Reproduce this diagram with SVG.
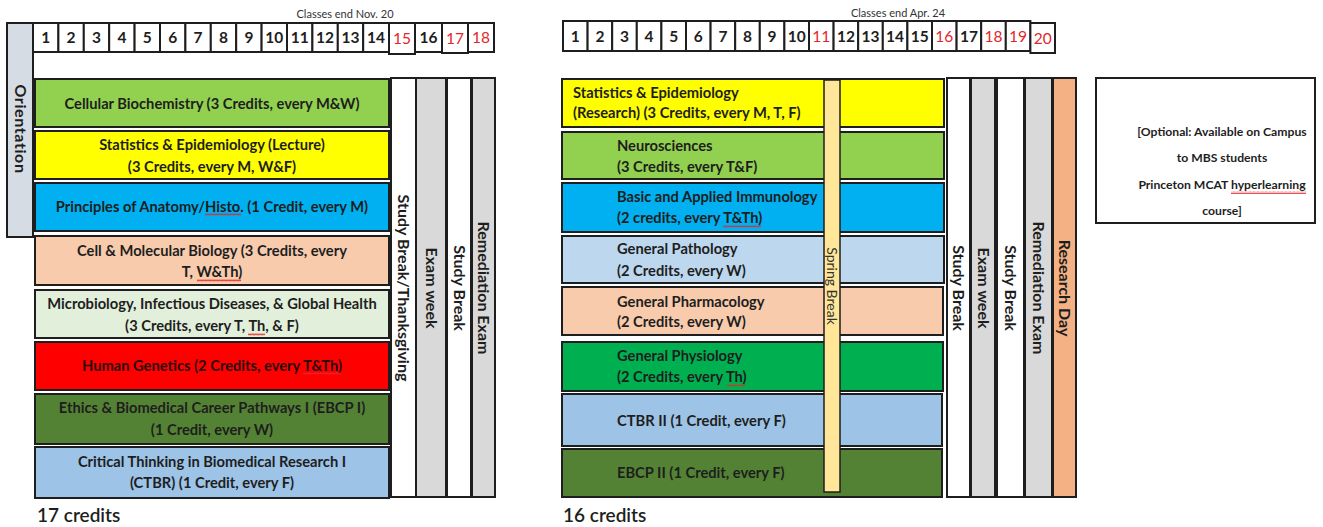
<svg xmlns="http://www.w3.org/2000/svg" width="1323" height="527" viewBox="0 0 1323 527">
<style>
text{font-family:Lato,"Liberation Sans",sans-serif;fill:#1e1e1e}
.c{font-size:14.7px;font-weight:700;text-anchor:middle}
.l{font-size:14.7px;font-weight:700}
.o{font-size:12.2px;font-weight:700;text-anchor:middle}
.bx{stroke:#1e1e1e;stroke-width:2}
.cell{fill:#fff;stroke:#1e1e1e;stroke-width:2}
.n{font-size:15.5px;font-weight:700;text-anchor:middle}
.r{fill:#e3262a;font-weight:400}
.bar{font-size:16px;font-weight:700;text-anchor:middle}
.sm{font-size:11px;text-anchor:middle;fill:#333}
.cr{font-size:19px;font-weight:600}
.sq{fill:url(#wave)}
</style>
<defs>
<pattern id="wave" width="4" height="3" patternUnits="userSpaceOnUse">
<path d="M0 2.4 L1 0.6 L2 2.4 L3 0.6 L4 2.4" fill="none" stroke="#e3262a" stroke-width="0.8"/>
</pattern>
</defs>

<!-- LEFT SEMESTER -->
<g id="left-classes-end"><text class="sm" x="345" y="18">Classes end Nov. 20</text></g>
<g id="left-header">
<rect class="cell" x="33" y="23" width="25.4" height="29"/><text class="n" x="45.7" y="43">1</text>
<rect class="cell" x="58.4" y="23" width="25.4" height="29"/><text class="n" x="71.1" y="43">2</text>
<rect class="cell" x="83.8" y="23" width="25.4" height="29"/><text class="n" x="96.5" y="43">3</text>
<rect class="cell" x="109.2" y="23" width="25.4" height="29"/><text class="n" x="121.9" y="43">4</text>
<rect class="cell" x="134.6" y="23" width="25.4" height="29"/><text class="n" x="147.3" y="43">5</text>
<rect class="cell" x="160" y="23" width="25.4" height="29"/><text class="n" x="172.7" y="43">6</text>
<rect class="cell" x="185.4" y="23" width="25.4" height="29"/><text class="n" x="198.1" y="43">7</text>
<rect class="cell" x="210.8" y="23" width="25.4" height="29"/><text class="n" x="223.5" y="43">8</text>
<rect class="cell" x="236.2" y="23" width="25.4" height="29"/><text class="n" x="248.9" y="43">9</text>
<rect class="cell" x="261.6" y="23" width="25.4" height="29"/><text class="n" x="274.3" y="43">10</text>
<rect class="cell" x="287" y="23" width="25.4" height="29"/><text class="n" x="299.7" y="43">11</text>
<rect class="cell" x="312.4" y="23" width="25.4" height="29"/><text class="n" x="325.1" y="43">12</text>
<rect class="cell" x="337.8" y="23" width="25.4" height="29"/><text class="n" x="350.5" y="43">13</text>
<rect class="cell" x="363.2" y="23" width="25.8" height="29"/><text class="n" x="376.1" y="43">14</text>
<rect class="cell" x="389" y="23" width="26" height="31"/><text class="n r" x="402" y="44">15</text>
<rect class="cell" x="415" y="23" width="27" height="29"/><text class="n" x="428.5" y="43">16</text>
<rect class="cell" x="442" y="23" width="26" height="30"/><text class="n r" x="455" y="44">17</text>
<rect class="cell" x="468" y="23" width="26" height="29"/><text class="n r" x="481" y="43">18</text>
</g>

<g id="orientation">
<rect class="bx" x="7" y="23" width="26" height="214" fill="#d6dce4"/>
<text class="bar" transform="translate(20,129) rotate(90)" y="5.5" style="letter-spacing:0.6px">Orientation</text>
</g>

<g id="cellular-biochemistry">
<rect class="bx" x="35" y="79" width="354" height="48" fill="#92d050"/>
<text class="c" x="212" y="109">Cellular Biochemistry (3 Credits, every M&amp;W)</text>
</g>
<g id="stats-epi-lecture">
<rect class="bx" x="35" y="131" width="354" height="48" fill="#ffff00"/>
<text class="c" x="212" y="150">Statistics &amp; Epidemiology (Lecture)</text>
<text class="c" x="212" y="172">(3 Credits, every M, W&amp;F)</text>
</g>
<g id="anatomy-histo">
<rect class="bx" x="35" y="183" width="354" height="48" fill="#00b0f0"/>
<text class="c" x="212" y="212">Principles of Anatomy/Histo. (1 Credit, every M)</text>
<rect class="sq" x="205" y="213" width="36" height="3"/>
</g>
<g id="cell-molecular">
<rect class="bx" x="35" y="236" width="354" height="49" fill="#f8cbad"/>
<text class="c" x="212" y="256">Cell &amp; Molecular Biology (3 Credits, every</text>
<text class="c" x="212" y="277">T, W&amp;Th)</text>
<rect class="sq" x="197" y="279" width="44" height="3"/>
</g>
<g id="microbiology">
<rect class="bx" x="35" y="290" width="354" height="48" fill="#e2efda"/>
<text class="c" x="212" y="309">Microbiology, Infectious Diseases, &amp; Global Health</text>
<text class="c" x="212" y="331">(3 Credits, every T, Th, &amp; F)</text>
<rect class="sq" x="248" y="333" width="17" height="3"/>
</g>
<g id="human-genetics">
<rect class="bx" x="35" y="342" width="354" height="48" fill="#ff0000"/>
<text class="c" x="212" y="371" style="fill:#2a0a0a">Human Genetics (2 Credits, every T&amp;Th)</text>
<rect class="sq" x="303" y="372" width="38" height="3"/>
</g>
<g id="ebcp-1">
<rect class="bx" x="35" y="394" width="354" height="50" fill="#548235"/>
<text class="c" x="212" y="413">Ethics &amp; Biomedical Career Pathways I (EBCP I)</text>
<text class="c" x="212" y="435">(1 Credit, every W)</text>
</g>
<g id="ctbr-1">
<rect class="bx" x="35" y="447" width="354" height="51" fill="#9dc3e6"/>
<text class="c" x="212" y="467">Critical Thinking in Biomedical Research I</text>
<text class="c" x="212" y="488">(CTBR) (1 Credit, every F)</text>
</g>

<g id="left-study-break-thanksgiving">
<rect class="bx" x="391" y="78" width="25" height="419" fill="#fff"/>
<text class="bar" transform="translate(403.5,288) rotate(90)" y="5.5">Study Break/Thanksgiving</text>
</g>
<g id="left-exam-week">
<rect class="bx" x="416" y="78" width="30" height="419" fill="#d9d9d9"/>
<text class="bar" transform="translate(431,288) rotate(90)" y="5.5">Exam week</text>
</g>
<g id="left-study-break">
<rect class="bx" x="447" y="78" width="24" height="419" fill="#fff"/>
<text class="bar" transform="translate(459,288) rotate(90)" y="5.5">Study Break</text>
</g>
<g id="left-remediation">
<rect class="bx" x="472" y="78" width="23" height="419" fill="#d9d9d9"/>
<text class="bar" transform="translate(483.5,288) rotate(90)" y="5.5">Remediation Exam</text>
</g>
<g id="left-credits"><text class="cr" x="37" y="522">17 credits</text></g>

<!-- RIGHT SEMESTER -->
<g id="right-classes-end"><text class="sm" x="898" y="17">Classes end Apr. 24</text></g>
<g id="right-header">
<rect class="cell" x="563" y="21" width="24.6" height="30"/><text class="n" x="575.3" y="41.5">1</text>
<rect class="cell" x="587.6" y="21" width="24.6" height="30"/><text class="n" x="599.9" y="41.5">2</text>
<rect class="cell" x="612.2" y="21" width="24.6" height="30"/><text class="n" x="624.5" y="41.5">3</text>
<rect class="cell" x="636.8" y="21" width="24.6" height="30"/><text class="n" x="649.1" y="41.5">4</text>
<rect class="cell" x="661.4" y="21" width="24.6" height="30"/><text class="n" x="673.7" y="41.5">5</text>
<rect class="cell" x="686" y="21" width="24.6" height="30"/><text class="n" x="698.3" y="41.5">6</text>
<rect class="cell" x="710.6" y="21" width="24.6" height="30"/><text class="n" x="722.9" y="41.5">7</text>
<rect class="cell" x="735.2" y="21" width="24.6" height="30"/><text class="n" x="747.5" y="41.5">8</text>
<rect class="cell" x="759.8" y="21" width="24.6" height="30"/><text class="n" x="772.1" y="41.5">9</text>
<rect class="cell" x="784.4" y="21" width="24.6" height="30"/><text class="n" x="796.7" y="41.5">10</text>
<rect class="cell" x="809" y="21" width="24.6" height="30"/><text class="n r" x="821.3" y="41.5">11</text>
<rect class="cell" x="833.6" y="21" width="24.6" height="30"/><text class="n" x="845.9" y="41.5">12</text>
<rect class="cell" x="858.2" y="21" width="24.6" height="30"/><text class="n" x="870.5" y="41.5">13</text>
<rect class="cell" x="882.8" y="21" width="24.6" height="30"/><text class="n" x="895.1" y="41.5">14</text>
<rect class="cell" x="907.4" y="21" width="24.6" height="30"/><text class="n" x="919.7" y="41.5">15</text>
<rect class="cell" x="932" y="21" width="24.6" height="30"/><text class="n r" x="944.3" y="41.5">16</text>
<rect class="cell" x="956.6" y="21" width="24.6" height="30"/><text class="n" x="968.9" y="41.5">17</text>
<rect class="cell" x="981.2" y="21" width="24.6" height="30"/><text class="n r" x="993.5" y="41.5">18</text>
<rect class="cell" x="1005.8" y="21" width="24.6" height="30"/><text class="n r" x="1018.1" y="41.5">19</text>
<rect class="cell" x="1030.4" y="23" width="24.6" height="30"/><text class="n r" x="1042.7" y="43.5">20</text>
</g>

<g id="stats-epi-research">
<rect class="bx" x="562" y="79" width="382" height="48" fill="#ffff00"/>
<text class="l" x="573" y="98">Statistics &amp; Epidemiology</text>
<text class="l" x="573" y="118">(Research) (3 Credits, every M, T, F)</text>
</g>
<g id="neurosciences">
<rect class="bx" x="562" y="132" width="382" height="47" fill="#92d050"/>
<text class="l" x="617" y="151">Neurosciences</text>
<text class="l" x="617" y="172">(3 Credits, every T&amp;F)</text>
</g>
<g id="immunology">
<rect class="bx" x="562" y="183" width="382" height="49" fill="#00b0f0"/>
<text class="l" x="617" y="202">Basic and Applied Immunology</text>
<text class="l" x="617" y="223">(2 credits, every T&amp;Th)</text>
<rect class="sq" x="723" y="225" width="38" height="3"/>
</g>
<g id="pathology">
<rect class="bx" x="562" y="236" width="382" height="47" fill="#bdd7ee"/>
<text class="l" x="617" y="254">General Pathology</text>
<text class="l" x="617" y="276">(2 Credits, every W)</text>
</g>
<g id="pharmacology">
<rect class="bx" x="562" y="287" width="381" height="48" fill="#f8cbad"/>
<text class="l" x="617" y="307">General Pharmacology</text>
<text class="l" x="617" y="327">(2 Credits, every W)</text>
</g>
<g id="physiology">
<rect class="bx" x="562" y="342" width="381" height="49" fill="#00b050"/>
<text class="l" x="617" y="361">General Physiology</text>
<text class="l" x="617" y="382">(2 Credits, every Th)</text>
<rect class="sq" x="727" y="384" width="18" height="3"/>
</g>
<g id="ctbr-2">
<rect class="bx" x="562" y="394" width="380" height="52" fill="#9dc3e6"/>
<text class="l" x="617" y="426">CTBR II (1 Credit, every F)</text>
</g>
<g id="ebcp-2">
<rect class="bx" x="562" y="449" width="380" height="48" fill="#548235"/>
<text class="l" x="617" y="478">EBCP II (1 Credit, every F)</text>
</g>

<g id="spring-break">
<rect x="824" y="80" width="16" height="412" fill="#ffe699" stroke="#1e1e1e" stroke-width="1.5"/>
<text transform="translate(832,286) rotate(90)" y="5" style="font-size:14px;text-anchor:middle;fill:#333">Spring Break</text>
</g>

<g id="right-study-break-1">
<rect class="bx" x="947" y="78" width="23" height="419" fill="#fff"/>
<text class="bar" transform="translate(958.5,288) rotate(90)" y="5.5">Study Break</text>
</g>
<g id="right-exam-week">
<rect class="bx" x="971" y="78" width="24" height="419" fill="#d9d9d9"/>
<text class="bar" transform="translate(983,288) rotate(90)" y="5.5">Exam week</text>
</g>
<g id="right-study-break-2">
<rect class="bx" x="997" y="78" width="27" height="419" fill="#fff"/>
<text class="bar" transform="translate(1010.5,288) rotate(90)" y="5.5">Study Break</text>
</g>
<g id="right-remediation">
<rect class="bx" x="1025" y="78" width="27" height="419" fill="#d9d9d9"/>
<text class="bar" transform="translate(1038.5,288) rotate(90)" y="5.5">Remediation Exam</text>
</g>
<g id="research-day">
<rect class="bx" x="1053" y="78" width="23" height="419" fill="#f4b183"/>
<text class="bar" transform="translate(1064.5,288) rotate(90)" y="5.5">Research Day</text>
</g>
<g id="right-credits"><text class="cr" x="563" y="522">16 credits</text></g>

<g id="optional-box">
<rect class="bx" x="1096" y="78" width="219" height="145" fill="#fff"/>
<text class="o" x="1222" y="136">[Optional: Available on Campus</text>
<text class="o" x="1222" y="162">to MBS students</text>
<text class="o" x="1222" y="189">Princeton MCAT hyperlearning</text>
<rect class="sq" x="1231" y="191" width="75" height="3"/>
<text class="o" x="1222" y="215">course]</text>
</g>
</svg>
